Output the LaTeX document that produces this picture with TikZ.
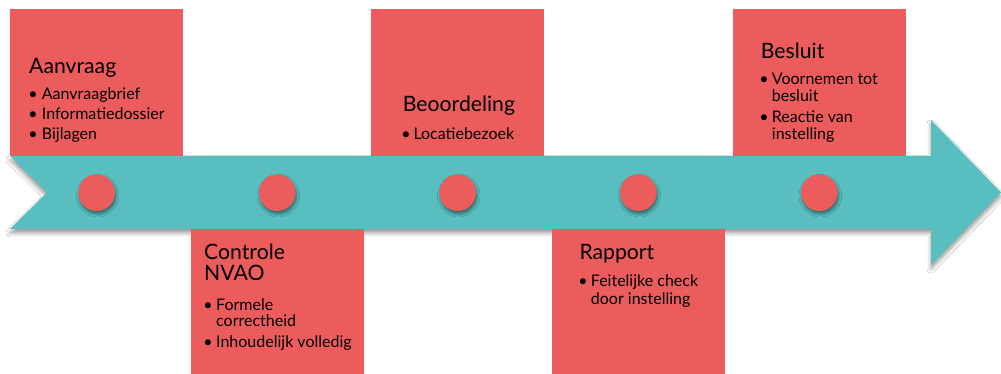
\documentclass[tikz,border=0pt]{standalone}
\usepackage{fontspec}
\setmainfont{Lato}
\usetikzlibrary{shadows.blur}
\definecolor{boxred}{RGB}{236,92,92}
\definecolor{bandteal}{RGB}{88,190,191}
\begin{document}
\begin{tikzpicture}[x=1pt,y=1pt,
  title/.style={anchor=base west, inner sep=0pt, font=\fontsize{21.2}{24}\selectfont},
  item/.style={anchor=base west, inner sep=0pt, font=\fontsize{16}{18}\selectfont},
  bul/.style={anchor=base, inner sep=0pt, font=\fontsize{16}{18}\selectfont},
  card/.style={fill=boxred, draw=none},
  dot/.style={circle, fill=boxred, draw=none, minimum size=36.6pt, inner sep=0pt,
    blur shadow={shadow xshift=1pt, shadow yshift=-3pt, shadow blur radius=3pt, shadow opacity=45}}
]
\useasboundingbox (0,0) rectangle (1001,374);
\fill[white] (0,0) rectangle (1001,374);

% band arrow
\path[fill=bandteal, blur shadow={shadow xshift=0pt, shadow yshift=-4pt, shadow blur radius=4pt, shadow opacity=40}]
  (10,218) -- (931,218) -- (931,254) -- (1001,181.5) -- (931,109) -- (931,145) -- (10,145) -- (47,181.5) -- cycle;

% cards
\fill[card] (10,218) rectangle (183,365);
\fill[card] (191,0) rectangle (364,145);
\fill[card] (371,218) rectangle (544,365);
\fill[card] (552,0) rectangle (725,145);
\fill[card] (733,218) rectangle (906,365);

% dots
\node[dot] (d1) at (96.7,181.3) {};
\node[dot] (d2) at (277.3,181.3) {};
\node[dot] (d3) at (457.7,181.3) {};
\node[dot] (d4) at (638.3,181.3) {};
\node[dot] (d5) at (819.3,181.3) {};

% card 1
\node[title] (t1) at (29,300.7) {Aanvraag};
\node[bul] (b1a) at (33,274.7) {•};
\node[item] (i1a) at (41.7,274.7) {Aanvraagbrief};
\node[bul] (b1b) at (33,254) {•};
\node[item] (i1b) at (41.7,254) {Informatiedossier};
\node[bul] (b1c) at (33,234) {•};
\node[item] (i1c) at (41.7,234) {Bijlagen};

% card 2
\node[title] (t2a) at (204,114) {Controle};
\node[title] (t2b) at (204,93) {NVAO};
\node[bul] (b2a) at (208,63) {•};
\node[item] (i2a) at (216,63) {Formele};
\node[item] (i2b) at (216,47.3) {correctheid};
\node[bul] (b2c) at (208,26.7) {•};
\node[item] (i2c) at (216,26.7) {Inhoudelijk volledig};

% card 3
\node[title] (t3) at (402.7,262.3) {Beoordeling};
\node[bul] (b3a) at (406,234) {•};
\node[item] (i3a) at (413.3,234) {Locatiebezoek};

% card 4
\node[title] (t4) at (579.3,114) {Rapport};
\node[bul] (b4a) at (583,87.3) {•};
\node[item] (i4a) at (590.7,87.3) {Feitelijke check};
\node[item] (i4b) at (590.7,69) {door instelling};

% card 5
\node[title] (t5) at (760.7,315.7) {Besluit};
\node[bul] (b5a) at (764,289) {•};
\node[item] (i5a) at (771.7,289) {Voornemen tot};
\node[item] (i5b) at (771.7,272.3) {besluit};
\node[bul] (b5c) at (764,251.3) {•};
\node[item] (i5c) at (771.7,251.3) {Reactie van};
\node[item] (i5d) at (771.7,234) {instelling};
\end{tikzpicture}
\end{document}
